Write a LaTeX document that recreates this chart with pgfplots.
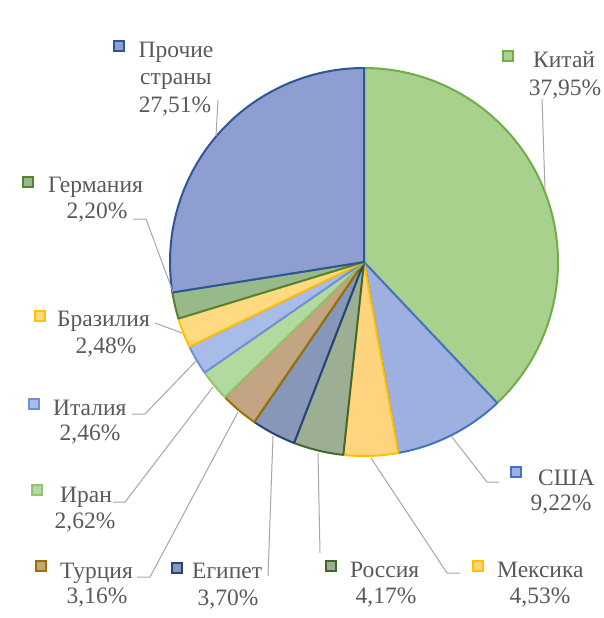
\documentclass[border=0pt]{standalone}
\usepackage{pgfplots}
\pgfplotsset{compat=1.18}
\usepackage{fontspec}
\setmainfont{Liberation Serif}
\newfontfamily\tnr{Liberation Serif}

% slice fills and borders
\definecolor{fChina}{HTML}{A9D18E}  \definecolor{dChina}{HTML}{70AD47}
\definecolor{fUSA}{HTML}{9DB0E0}    \definecolor{dUSA}{HTML}{4472C4}
\definecolor{fMex}{HTML}{FFD47F}    \definecolor{dMex}{HTML}{FFC000}
\definecolor{fRus}{HTML}{9CAF94}    \definecolor{dRus}{HTML}{43682B}
\definecolor{fEgy}{HTML}{8797BA}    \definecolor{dEgy}{HTML}{264478}
\definecolor{fTur}{HTML}{C3A584}    \definecolor{dTur}{HTML}{997300}
\definecolor{fIran}{HTML}{B3DA9E}   \definecolor{dIran}{HTML}{92C572}
\definecolor{fIta}{HTML}{A8BCEA}    \definecolor{dIta}{HTML}{6F90D8}
\definecolor{fBra}{HTML}{FFDA80}    \definecolor{dBra}{HTML}{FFC000}
\definecolor{fGer}{HTML}{98B98A}    \definecolor{dGer}{HTML}{548235}
\definecolor{fOth}{HTML}{8E9ED0}    \definecolor{dOth}{HTML}{2F5597}
\definecolor{txt}{HTML}{595959}
\definecolor{lead}{HTML}{A6A6A6}

\tikzset{lbl/.style={font=\tnr\fontsize{23.5bp}{27bp}\selectfont, text=txt, inner sep=0pt}}

% pie centre (364,262), radius 194, start at top, clockwise
\newcommand\cum{90}
\newcommand\slice[3]{%
  \pgfmathsetmacro\sa{\cum}%
  \pgfmathsetmacro\sb{\cum-3.6*#1}%
  \xdef\cum{\sb}%
  \edef\tmp{\noexpand\addplot[fill=#2,draw=#3,line width=2bp,line join=round,
    domain=\sb:\sa,samples=90] ({364+194*cos(x)},{262-194*sin(x)})
    -- (axis cs:364,262) -- cycle;}%
  \tmp}

\newcommand\key[4]{\node[draw=#4,fill=#3,line width=1.3bp,minimum size=10bp,inner sep=0pt]
  at (axis cs:#1,#2) {};}

\begin{document}
\begin{tikzpicture}
\begin{axis}[
    width=604bp, height=618bp, scale only axis,
    xmin=0, xmax=604, ymin=0, ymax=618, y dir=reverse,
    hide axis, clip=false,
]
\slice{37.95}{fChina}{dChina}
\slice{9.22}{fUSA}{dUSA}
\slice{4.53}{fMex}{dMex}
\slice{4.17}{fRus}{dRus}
\slice{3.70}{fEgy}{dEgy}
\slice{3.16}{fTur}{dTur}
\slice{2.62}{fIran}{dIran}
\slice{2.46}{fIta}{dIta}
\slice{2.48}{fBra}{dBra}
\slice{2.20}{fGer}{dGer}
\slice{27.51}{fOth}{dOth}

% leader lines
\draw[lead, line width=1bp] (axis cs:218,100) -- (axis cs:216,136);
\draw[lead, line width=1bp] (axis cs:542,99) -- (axis cs:545,190);
\draw[lead, line width=1bp] (axis cs:133,219) -- (axis cs:146,219) -- (axis cs:173,292);
\draw[lead, line width=1bp] (axis cs:155,323) -- (axis cs:182,333);
\draw[lead, line width=1bp] (axis cs:132,414) -- (axis cs:145,414) -- (axis cs:196,361);
\draw[lead, line width=1bp] (axis cs:113,502) -- (axis cs:125,502) -- (axis cs:213,387);
\draw[lead, line width=1bp] (axis cs:137,577) -- (axis cs:150,577) -- (axis cs:238,412);
\draw[lead, line width=1bp] (axis cs:268,576) -- (axis cs:273,436);
\draw[lead, line width=1bp] (axis cs:320,553) -- (axis cs:318,453);
\draw[lead, line width=1bp] (axis cs:460,573) -- (axis cs:447,573) -- (axis cs:371,458);
\draw[lead, line width=1bp] (axis cs:499,482) -- (axis cs:487,482) -- (axis cs:452,437);

% labels
\key{119}{46}{fOth}{dOth}
\node[lbl,anchor=base] at (axis cs:176,58) {Прочие};
\node[lbl,anchor=base] at (axis cs:176,85) {страны};
\node[lbl,anchor=base] at (axis cs:175,112) {27,51\%};

\key{508}{56}{fChina}{dChina}
\node[lbl,anchor=base west] at (axis cs:533,68) {Китай};
\node[lbl,anchor=base] at (axis cs:565,95) {37,95\%};

\key{28}{182}{fGer}{dGer}
\node[lbl,anchor=base west] at (axis cs:48,192) {Германия};
\node[lbl,anchor=base] at (axis cs:97,218) {2,20\%};

\key{40}{316}{fBra}{dBra}
\node[lbl,anchor=base west] at (axis cs:57,326) {Бразилия};
\node[lbl,anchor=base] at (axis cs:106,353) {2,48\%};

\key{34}{404}{fIta}{dIta}
\node[lbl,anchor=base west] at (axis cs:53,415) {Италия};
\node[lbl,anchor=base] at (axis cs:90,440) {2,46\%};

\key{37}{490}{fIran}{dIran}
\node[lbl,anchor=base west] at (axis cs:60,502) {Иран};
\node[lbl,anchor=base] at (axis cs:85,528) {2,62\%};

\key{41}{566}{fTur}{dTur}
\node[lbl,anchor=base west] at (axis cs:60,578) {Турция};
\node[lbl,anchor=base] at (axis cs:97,603) {3,16\%};

\key{177}{568}{fEgy}{dEgy}
\node[lbl,anchor=base west] at (axis cs:192,578) {Египет};
\node[lbl,anchor=base] at (axis cs:228,605) {3,70\%};

\key{331}{566}{fRus}{dRus}
\node[lbl,anchor=base west] at (axis cs:350,577) {Россия};
\node[lbl,anchor=base] at (axis cs:386,603) {4,17\%};

\key{478}{566}{fMex}{dMex}
\node[lbl,anchor=base west] at (axis cs:497,577) {Мексика};
\node[lbl,anchor=base] at (axis cs:540,603) {4,53\%};

\key{516}{472}{fUSA}{dUSA}
\node[lbl,anchor=base west] at (axis cs:538,485) {США};
\node[lbl,anchor=base] at (axis cs:561,510) {9,22\%};
\end{axis}
\pgfresetboundingbox
\path (current axis.south west) rectangle (current axis.north east);
\end{tikzpicture}
\end{document}
